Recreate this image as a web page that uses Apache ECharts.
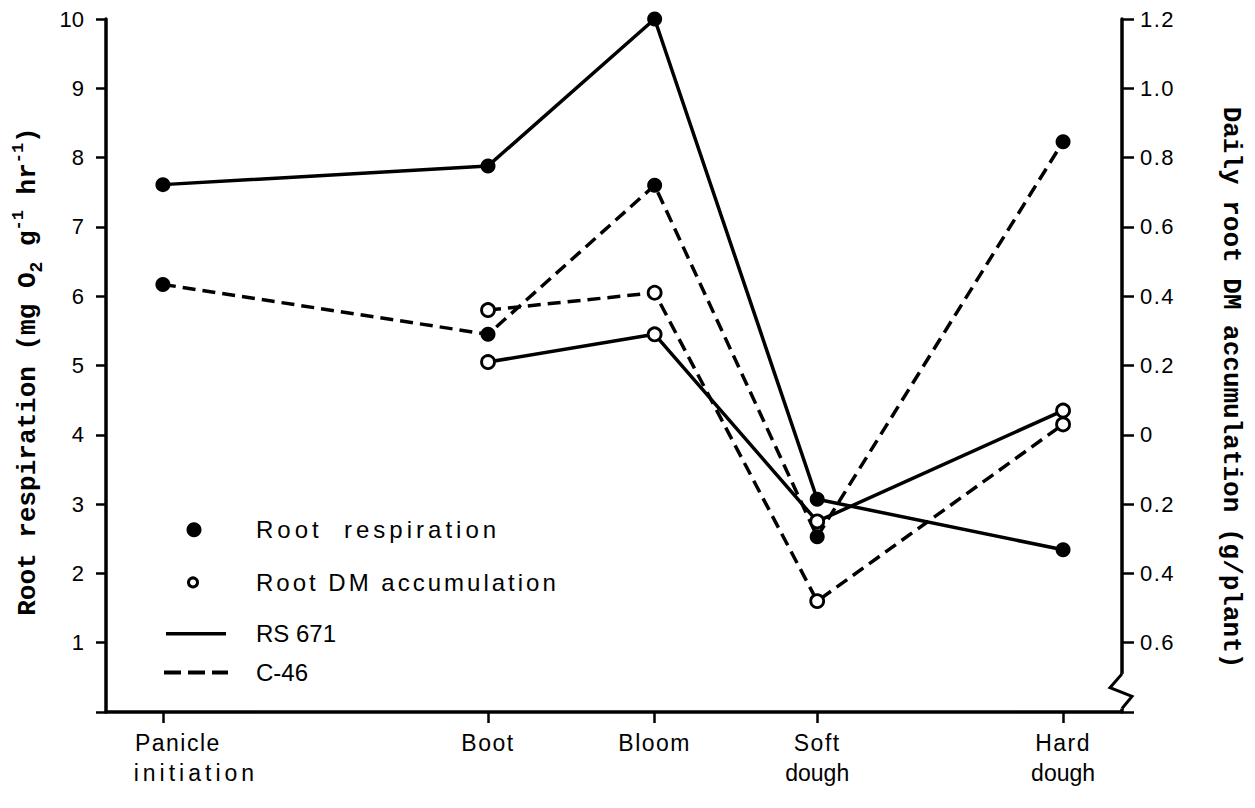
<!DOCTYPE html>
<html>
<head>
<meta charset="utf-8">
<script src="https://cdn.jsdelivr.net/npm/echarts@6/dist/echarts.min.js"></script>
<style>
  html, body { margin: 0; padding: 0; background: #fff; }
  #chart { width: 1255px; height: 808px; }
  /* typewriter-style letter spacing, keyed on the font-family list of a text */
  #chart text[style*="Arimo"] { letter-spacing: 4px; }
  #chart text[style*="Cousine"] { letter-spacing: 3px; }
  #chart text[style*="Tinos"] { letter-spacing: 1.5px; }
</style>
</head>
<body>
<div id="chart"></div>
<script>
// Growth stages and their position on the time axis
const stageTop    = ['Panicle', 'Boot', 'Bloom', 'Soft', 'Hard'];
const stageBottom = ['initiation', '', '', 'dough', 'dough'];
const stagePos    = [5.6, 37.6, 54.0, 70.0, 94.2];

// Root respiration, mg O2 g-1 hr-1 (left axis)
const rs671Resp = [7.61, 7.88, 10.0, 3.07, 2.34];
const c46Resp   = [6.17, 5.45, 7.60, 2.53, 8.23];

// Daily root DM accumulation, g/plant (right axis); none measured at panicle initiation
const rs671DM = [null, 0.21, 0.29, -0.25, 0.07];
const c46DM   = [null, 0.36, 0.41, -0.48, 0.03];

// Tick values
const leftTicks  = [0, 10, 1];      // min, max, interval
const rightTicks = [-0.8, 1.2, 0.2];

const SANS = "'Liberation Sans', sans-serif";
const SANS_WIDE = "'Liberation Sans', Arimo";
const SANS_MID = "'Liberation Sans', Cousine";
const SANS_TIGHT = "'Liberation Sans', Tinos";
const MONO = "'Liberation Mono', monospace";

function pairs(values) {
  const out = [];
  values.forEach((v, i) => { if (v !== null) out.push([stagePos[i], v]); });
  return out;
}

const chart = echarts.init(document.getElementById('chart'), null, { renderer: 'svg' });

const solid = { color: '#000', width: 3.5, type: 'solid' };
const dashed = { color: '#000', width: 3.5, type: [13, 7] };
const filled = { color: '#000' };
const open = { color: '#fff', borderColor: '#000', borderWidth: 2.8 };

const axisLine = { show: true, lineStyle: { color: '#000', width: 3.5 } };

// stage label styles: the first stage is set off to the right of its tick
const labelRich = {
  t0: { fontFamily: SANS_TIGHT, fontSize: 23, lineHeight: 30, color: '#000', padding: [0, 0, 0, 30] },
  b0: { fontFamily: SANS_WIDE, fontSize: 23, lineHeight: 30, color: '#000', padding: [0, 0, 0, 66] },
  t:  { fontFamily: SANS_TIGHT, fontSize: 23, lineHeight: 30, color: '#000' },
  b:  { fontFamily: SANS, fontSize: 23, lineHeight: 30, color: '#000' }
};

chart.setOption({
  animation: false,
  backgroundColor: '#fff',
  grid: { left: 106, right: 133, top: 19, bottom: 96, outerBoundsMode: 'none' },
  xAxis: {
    type: 'value', min: 0, max: 100,
    axisLine: axisLine,
    splitLine: { show: false },
    axisTick: { show: true, customValues: stagePos, length: 11, lineStyle: { color: '#000', width: 2.5 } },
    axisLabel: {
      customValues: stagePos,
      margin: 16,
      color: '#000',
      fontFamily: SANS, fontSize: 23, lineHeight: 30,
      formatter: function (v) {
        const i = stagePos.indexOf(v);
        if (i < 0) return '';
        const k = i === 0 ? '0' : '';
        let s = '{t' + k + '|' + stageTop[i] + '}';
        if (stageBottom[i]) s += '\n{b' + k + '|' + stageBottom[i] + '}';
        return s;
      },
      rich: labelRich
    }
  },
  yAxis: [
    {
      type: 'value', position: 'left',
      min: leftTicks[0], max: leftTicks[1], interval: leftTicks[2],
      axisLine: axisLine,
      splitLine: { show: false },
      axisTick: { show: true, length: 10, lineStyle: { color: '#000', width: 2.5 } },
      axisLabel: {
        color: '#000', fontFamily: SANS, fontSize: 22, margin: 22,
        formatter: v => (v === 0 ? '' : String(v))
      },
      name: 'Root respiration (mg O{sub|2} g{sup|-1} hr{sup|-1})',
      nameLocation: 'middle', nameRotate: 90, nameGap: 60,
      nameTextStyle: {
        color: '#000', fontFamily: MONO, fontWeight: 'bold', fontSize: 26, lineHeight: 36,
        padding: [0, 12, 0, 0],
        rich: {
          sub: { fontFamily: MONO, fontWeight: 'bold', fontSize: 18, verticalAlign: 'bottom', color: '#000' },
          sup: { fontFamily: MONO, fontWeight: 'bold', fontSize: 17, verticalAlign: 'top', color: '#000' }
        }
      }
    },
    {
      type: 'value', position: 'right',
      min: rightTicks[0], max: rightTicks[1], interval: rightTicks[2],
      axisLine: axisLine,
      splitLine: { show: false },
      axisTick: { show: true, length: 12, lineStyle: { color: '#000', width: 2.5 } },
      axisLabel: {
        color: '#000', fontFamily: SANS_TIGHT, fontSize: 22, margin: 18,
        formatter: function (v) {
          const r = Math.round(v * 10) / 10;
          if (r <= rightTicks[0] + 1e-9) return '';
          return r === 0 ? '0' : Math.abs(r).toFixed(1);
        }
      },
      name: 'Daily root DM accumulation (g/plant)',
      nameLocation: 'middle', nameRotate: -90, nameGap: 96,
      nameTextStyle: {
        color: '#000', fontFamily: MONO, fontWeight: 'bold', fontSize: 26,
        padding: [0, 0, 0, 44]
      }
    }
  ],
  series: [
    { name: 'RS 671 respiration', type: 'line', yAxisIndex: 0, data: pairs(rs671Resp),
      symbol: 'circle', symbolSize: 15, lineStyle: solid, itemStyle: filled, z: 3 },
    { name: 'C-46 respiration', type: 'line', yAxisIndex: 0, data: pairs(c46Resp),
      symbol: 'circle', symbolSize: 15, lineStyle: dashed, itemStyle: filled, z: 3 },
    { name: 'RS 671 DM accumulation', type: 'line', yAxisIndex: 1, data: pairs(rs671DM),
      symbol: 'circle', symbolSize: 13, lineStyle: solid, itemStyle: open, z: 4 },
    { name: 'C-46 DM accumulation', type: 'line', yAxisIndex: 1, data: pairs(c46DM),
      symbol: 'circle', symbolSize: 13, lineStyle: dashed, itemStyle: open, z: 4 }
  ]
});

// Key and axis-break mark, placed relative to the plotting area
const gx0 = chart.convertToPixel({ xAxisIndex: 0 }, 0);
const gx1 = chart.convertToPixel({ xAxisIndex: 0 }, 100);
const yR = v => chart.convertToPixel({ yAxisIndex: 1 }, v);
const yL = v => chart.convertToPixel({ yAxisIndex: 0 }, v);

const keyX = gx0 + 60;
const keyText = gx0 + 150;
const keyRows = [yL(2.63), yL(1.87), yL(1.13), yL(0.57)];

function keyLabel(text, family, y) {
  return {
    type: 'text', x: keyText, y: y,
    style: { text: text, fill: '#000', fontFamily: family, fontSize: 24, textVerticalAlign: 'middle' }
  };
}

const zTop = yR(-0.69), zBot = yR(-0.79);
const zh = zBot - zTop;

chart.setOption({
  graphic: [
    { type: 'circle', shape: { cx: keyX + 28, cy: keyRows[0], r: 7.5 }, style: { fill: '#000' } },
    keyLabel('Root  respiration', SANS_WIDE, keyRows[0]),
    { type: 'circle', shape: { cx: keyX + 27, cy: keyRows[1], r: 4.5 }, style: { fill: '#fff', stroke: '#000', lineWidth: 3 } },
    keyLabel('Root DM accumulation', SANS_MID, keyRows[1]),
    { type: 'line', shape: { x1: keyX, y1: keyRows[2], x2: keyX + 60, y2: keyRows[2] }, style: { stroke: '#000', lineWidth: 3.5 } },
    keyLabel('RS 671', SANS, keyRows[2]),
    { type: 'line', shape: { x1: keyX - 2, y1: keyRows[3], x2: keyX + 62, y2: keyRows[3] }, style: { stroke: '#000', lineWidth: 4, lineDash: [17, 7] } },
    keyLabel('C-46', SANS, keyRows[3]),
    { type: 'rect', shape: { x: gx1 - 4, y: zTop, width: 8, height: zh }, style: { fill: '#fff' }, z: 100 },
    { type: 'polyline', z: 101,
      shape: { points: [[gx1, zTop], [gx1 - 12, zTop + zh * 0.4], [gx1 + 10, zTop + zh * 0.65], [gx1, zBot]] },
      style: { stroke: '#000', lineWidth: 3, fill: null } }
  ]
});
</script>
</body>
</html>
